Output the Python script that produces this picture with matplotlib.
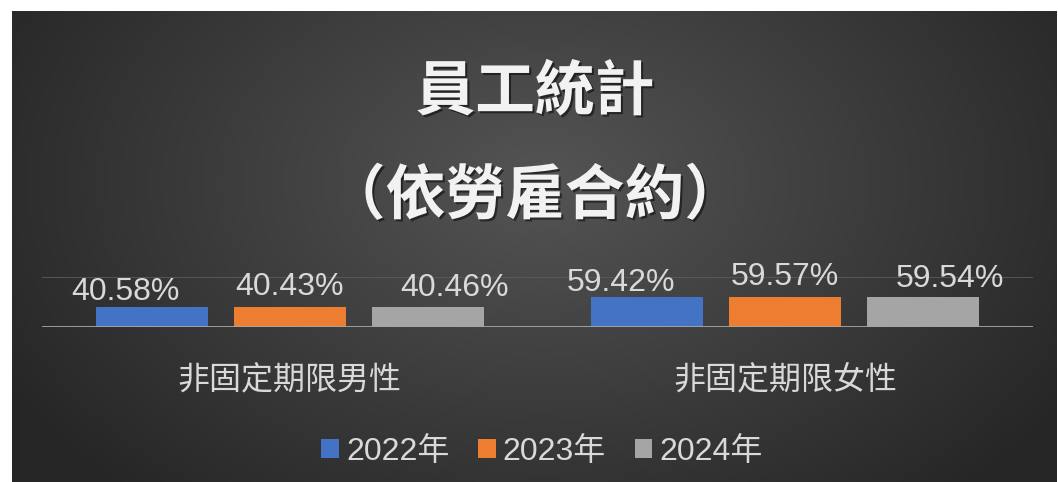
import numpy as np
import matplotlib
matplotlib.use("Agg")
from matplotlib import pyplot as plt
from matplotlib import patheffects as pe
from matplotlib.patches import Patch

plt.rcParams['font.family'] = ['Liberation Sans', 'Noto Sans CJK TC']

# data
categories = ["非固定期限男性", "非固定期限女性"]
years = ["2022年", "2023年", "2024年"]
values = {
    "2022年": [40.58, 59.42],
    "2023年": [40.43, 59.57],
    "2024年": [40.46, 59.54],
}
title_lines = ["員工統計", "（依勞雇合約）"]

colors = ["#4472c4", "#ed7d31", "#a5a5a5"]
# label offsets (points) per series, as placed in the original
label_dx = [-19, 0, 19.5]
label_dy = [13, 17, 16]
text_col = "#d9d9d9"

W, H = 1058, 482
fig = plt.figure(figsize=(W / 100, H / 100), dpi=100, facecolor="white")

# dark radial gradient panel
bg = fig.add_axes([12 / W, 0, (1057 - 12) / W, (H - 11) / H])
bg.set_axis_off()
yy, xx = np.mgrid[0:471, 0:1045]
d = np.sqrt(((xx - 530) / 620.0) ** 2 + ((yy - 170) / 420.0) ** 2)
d = np.clip(d, 0, 1)
shade = 0.33 - 0.18 * d
img = np.dstack([shade, shade, shade])
bg.imshow(img, aspect="auto", extent=(0, 1, 0, 1), interpolation="bilinear")
bg.set_xlim(0, 1)
bg.set_ylim(0, 1)

# main axes
x0, x1 = 42, 1033
y_zero, y_top = 327, 277
ax = fig.add_axes([x0 / W, (H - y_zero) / H, (x1 - x0) / W, (y_zero - y_top) / H])
ax.patch.set_alpha(0)
ax.set_xlim(-0.5, 1.5)
ax.set_ylim(0, 100)

x = np.arange(len(categories))
width = 112 / 495.5
step = 138 / 495.5
for i, yr in enumerate(years):
    pos = x + (i - 1) * step
    bars = ax.bar(pos, values[yr], width, color=colors[i], zorder=2)
    for b, v in zip(bars, values[yr]):
        ax.annotate(f"{v:.2f}%", (b.get_x() + b.get_width() / 2, b.get_height()),
                    xytext=(label_dx[i], label_dy[i]), textcoords="offset points",
                    ha="center", va="center_baseline", fontsize=23, color=text_col,
                    family="Liberation Sans", zorder=4)

ax.axhline(100, color="#5c5c5c", lw=1.2, zorder=1)
ax.axhline(0, color="#a6a6a6", lw=2, zorder=3)

for s in ax.spines.values():
    s.set_visible(False)
ax.set_yticks([])
ax.set_xticks(x)
ax.set_xticklabels(categories, fontsize=23, color=text_col, family="Noto Sans CJK TC")
ax.tick_params(axis="x", length=0, pad=27)

# title
shadow = [pe.withSimplePatchShadow(offset=(1.5, -1.5), shadow_rgbFace="black", alpha=0.5)]
fig.text(535 / W, 1 - 93 / H, title_lines[0], ha="center", va="center", fontsize=43,
         fontweight="bold", color="#f2f2f2", family="Noto Sans CJK TC", path_effects=shadow)
fig.text(535 / W, 1 - 197 / H, title_lines[1], ha="center", va="center", fontsize=43,
         fontweight="bold", color="#f2f2f2", family="Noto Sans CJK TC", path_effects=shadow)

# legend
handles = [Patch(facecolor=c, edgecolor="none") for c in colors]
leg = fig.legend(handles, years, loc="center", bbox_to_anchor=(542 / W, 1 - 452 / H),
                 ncol=3, frameon=False, fontsize=23, handlelength=0.55, handleheight=0.55,
                 handletextpad=0.22, columnspacing=0.9, borderaxespad=0)
for t in leg.get_texts():
    t.set_color(text_col)

fig.savefig("out.png", dpi=100, facecolor="white")
